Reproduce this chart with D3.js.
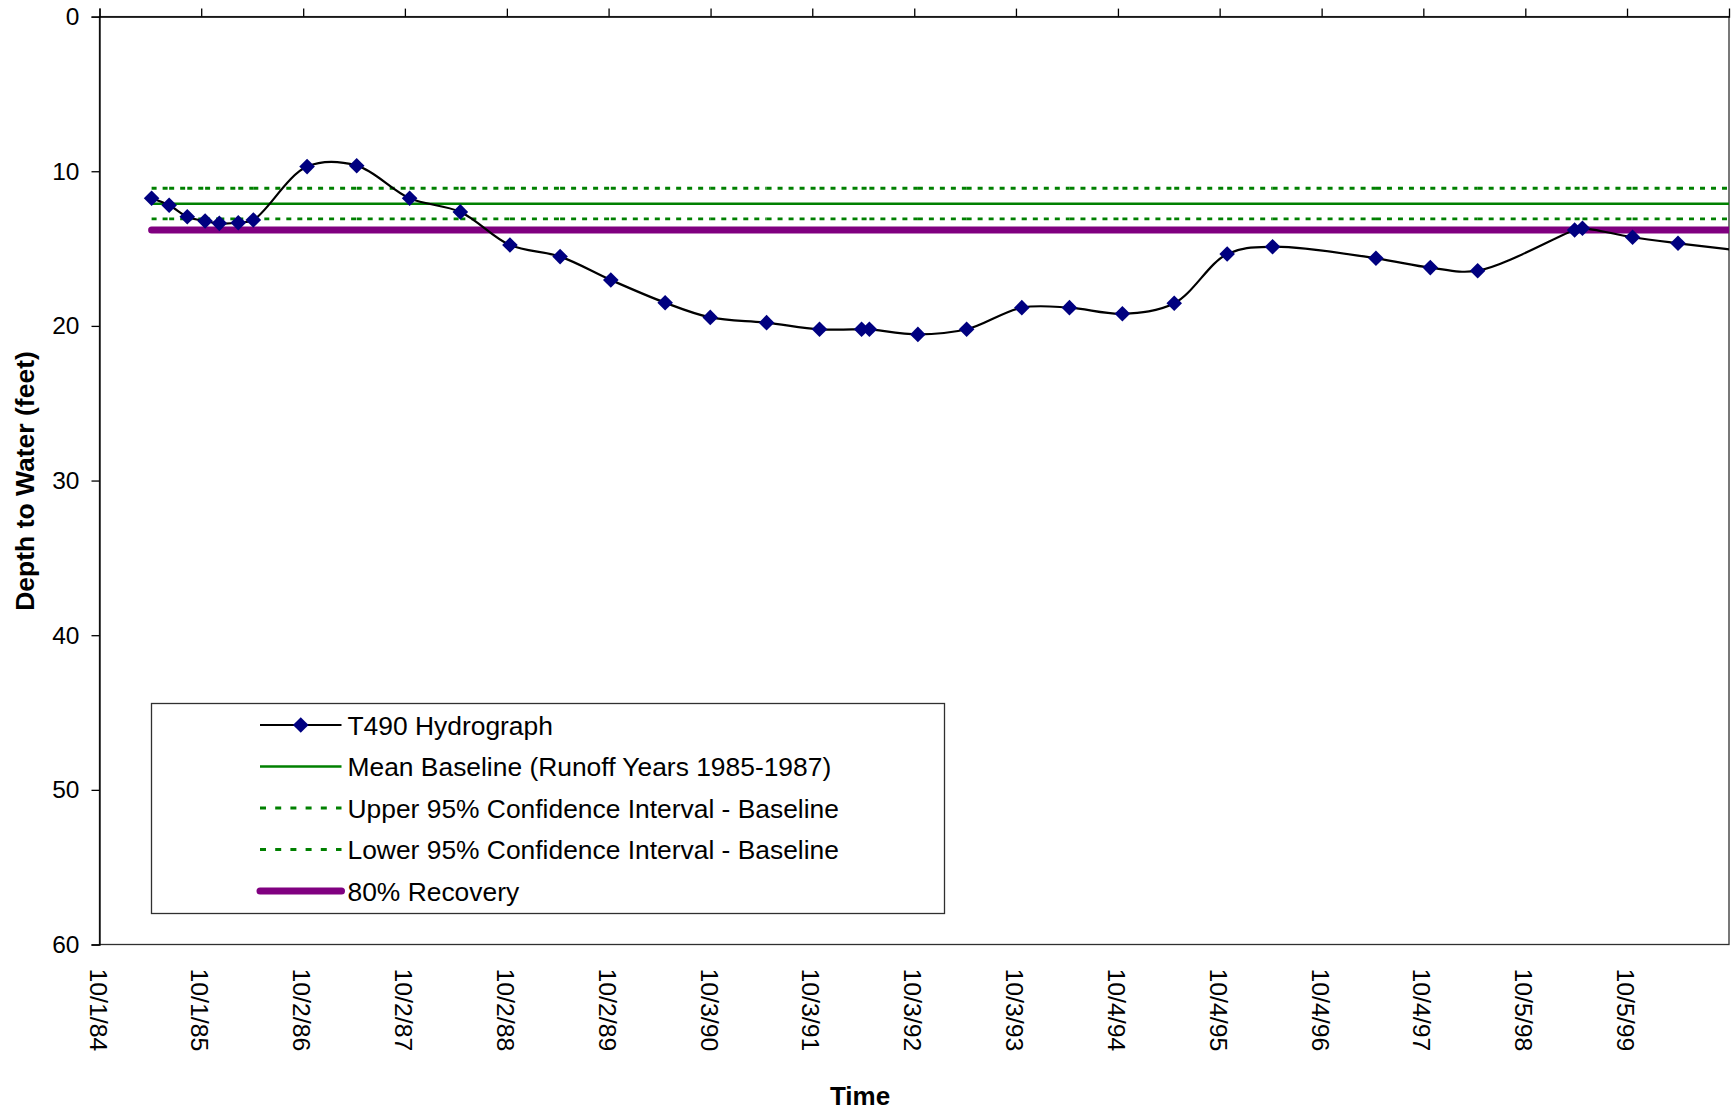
<!DOCTYPE html>
<html>
<head>
<meta charset="utf-8">
<script src="https://cdn.jsdelivr.net/npm/d3@7"></script>
<style>
  html, body { margin: 0; padding: 0; background: #fff; }
  svg { display: block; font-family: "Liberation Sans", Arial, sans-serif; }
</style>
</head>
<body>
<svg id="chart" width="1732" height="1113"></svg>
<script>
// ---------------- DATA ----------------
const sampleDates = [
  "1985-04-06", "1985-06-08", "1985-08-12", "1985-10-15", "1985-12-05",
  "1986-02-11", "1986-04-06", "1986-10-16", "1987-04-12", "1987-10-19",
  "1988-04-18", "1988-10-13", "1989-04-11", "1989-10-10", "1990-04-23",
  "1990-10-02", "1991-04-22", "1991-10-29", "1992-03-28", "1992-04-25",
  "1992-10-16", "1993-04-09", "1993-10-24", "1994-04-13", "1994-10-20",
  "1995-04-24", "1995-10-31", "1996-04-11", "1997-04-17", "1997-10-29",
  "1998-04-17", "1999-03-31", "1999-04-28", "1999-10-25", "2000-04-05",
  "2001-04-15"
];
const depthFeet = [
  11.75, 12.20, 12.94, 13.22, 13.37,
  13.33, 13.15, 9.70, 9.64, 11.75,
  12.63, 14.77, 15.52, 17.03, 18.50,
  19.45, 19.79, 20.22, 20.22, 20.22,
  20.55, 20.22, 18.82, 18.82, 19.21,
  18.54, 15.35, 14.88, 15.63, 16.23,
  16.43, 13.80, 13.69, 14.27, 14.66,
  15.45
];
const seriesNames = [
  "T490 Hydrograph",
  "Mean Baseline (Runoff Years 1985-1987)",
  "Upper 95% Confidence Interval - Baseline",
  "Lower 95% Confidence Interval - Baseline",
  "80% Recovery"
];
// constant baseline levels (feet): mean, upper CI, lower CI, 80% recovery
const baselineLevels = [12.10, 11.10, 13.08, 13.80];
const xTickLabels = [
  "10/1/84", "10/1/85", "10/2/86", "10/2/87", "10/2/88", "10/2/89",
  "10/3/90", "10/3/91", "10/3/92", "10/3/93", "10/4/94", "10/4/95",
  "10/4/96", "10/4/97", "10/5/98", "10/5/99"
];
const xDomainLabels = ["10/1/84", "10/5/00"];
const yTickValues = [0, 10, 20, 30, 40, 50, 60];
const yTitle = "Depth to Water (feet)";
const xTitle = "Time";

// ---------------- LAYOUT ----------------
const plot = { left: 99.5, right: 1729, top: 16.6, bottom: 944.5 };
const svg = d3.select("#chart");

const parseISO = d3.timeParse("%Y-%m-%d");
const parseLabel = d3.timeParse("%m/%d/%y");

const x = d3.scaleTime()
  .domain(xDomainLabels.map(parseLabel))
  .range([plot.left, plot.right]);
const y = d3.scaleLinear()
  .domain([0, 60])
  .range([plot.top, plot.bottom]);

const hydro = sampleDates.map((d, i) => ({ date: parseISO(d), depth: depthFeet[i] }));

svg.append("defs").append("clipPath").attr("id", "plotClip")
  .append("rect")
  .attr("x", plot.left).attr("y", plot.top)
  .attr("width", plot.right - plot.left).attr("height", plot.bottom - plot.top);

// plot area border (bottom & right)
svg.append("rect")
  .attr("x", plot.left).attr("y", plot.top)
  .attr("width", plot.right - plot.left).attr("height", plot.bottom - plot.top)
  .attr("fill", "#fff").attr("stroke", "#303030").attr("stroke-width", 1.3);

// ---------------- AXES ----------------
const yAxis = d3.axisLeft(y).tickValues(yTickValues).tickSize(8).tickPadding(12);
const gy = svg.append("g").attr("transform", `translate(${plot.left},0)`).call(yAxis);
gy.select(".domain").attr("stroke", "#000").attr("stroke-width", 1.3);
gy.selectAll(".tick line").attr("stroke", "#000").attr("stroke-width", 1.3);
gy.selectAll(".tick text").attr("font-size", "24.5px").attr("fill", "#000")
  .attr("font-family", "Liberation Sans, Arial, sans-serif");

const xTickDates = xTickLabels.map(parseLabel);
const xAxisTop = d3.axisTop(x).tickValues(xTickDates).tickSize(8).tickFormat("");
const gxTop = svg.append("g").attr("transform", `translate(0,${plot.top})`).call(xAxisTop);
gxTop.select(".domain").attr("stroke", "#000").attr("stroke-width", 1.3);
gxTop.selectAll(".tick line").attr("stroke", "#000").attr("stroke-width", 1.3);

// x tick labels at bottom, rotated to read downward
const labelY = plot.bottom + 24;
svg.append("g").selectAll("text")
  .data(xTickDates)
  .join("text")
  .attr("transform", (d) => `translate(${x(d)},${labelY}) rotate(90)`)
  .attr("dy", "0.4em")
  .attr("text-anchor", "start")
  .attr("font-size", "24.8px")
  .attr("fill", "#000")
  .text((d, i) => xTickLabels[i]);

// axis titles
svg.append("text")
  .attr("transform", `translate(24,481) rotate(-90)`)
  .attr("text-anchor", "middle")
  .attr("dy", "0.36em")
  .attr("font-size", "26.5px").attr("font-weight", "bold")
  .text(yTitle);
svg.append("text")
  .attr("x", 860).attr("y", 1105)
  .attr("text-anchor", "middle")
  .attr("font-size", "26px").attr("font-weight", "bold")
  .text(xTitle);

// ---------------- SERIES ----------------
const refStyles = [
  { color: "#008000", width: 2.5, dash: null, cap: "butt" },
  { color: "#008000", width: 2.8, dash: "5,6", cap: "butt" },
  { color: "#008000", width: 2.8, dash: "5,6", cap: "butt" },
  { color: "#800080", width: 7, dash: null, cap: "round" }
];

const plotG = svg.append("g").attr("clip-path", "url(#plotClip)");

// reference lines: one segment per sampling interval (as the source draws them)
baselineLevels.forEach((lvl, k) => {
  const st = refStyles[k];
  const g = plotG.append("g");
  if (st.dash) {
    for (let i = 0; i < hydro.length - 1; i++) {
      g.append("line")
        .attr("x1", x(hydro[i].date)).attr("x2", x(hydro[i + 1].date))
        .attr("y1", y(lvl)).attr("y2", y(lvl))
        .attr("stroke", st.color).attr("stroke-width", st.width)
        .attr("stroke-dasharray", st.dash);
    }
  } else {
    g.append("path")
      .datum(hydro)
      .attr("d", d3.line().x((d) => x(d.date)).y(() => y(lvl)))
      .attr("fill", "none")
      .attr("stroke", st.color).attr("stroke-width", st.width)
      .attr("stroke-linecap", st.cap);
  }
});

// hydrograph line (smoothed)
plotG.append("path")
  .datum(hydro)
  .attr("d", d3.line().x((d) => x(d.date)).y((d) => y(d.depth)).curve(d3.curveCatmullRom.alpha(0.5)))
  .attr("fill", "none")
  .attr("stroke", "#000")
  .attr("stroke-width", 2.2);

const diamond = "M0,-7.8L7.8,0L0,7.8L-7.8,0Z";
plotG.append("g").selectAll("path")
  .data(hydro)
  .join("path")
  .attr("transform", (d) => `translate(${x(d.date)},${y(d.depth)})`)
  .attr("d", diamond)
  .attr("fill", "#000080");

// ---------------- LEGEND ----------------
const lg = { x: 151.5, y: 703.5, w: 793, h: 210 };
const legend = svg.append("g");
legend.append("rect")
  .attr("x", lg.x).attr("y", lg.y).attr("width", lg.w).attr("height", lg.h)
  .attr("fill", "#fff").attr("stroke", "#303030").attr("stroke-width", 1.3);

const lx0 = 260, lx1 = 341.5, ltx = 347.5;
seriesNames.forEach((name, i) => {
  const ly = lg.y + 21.5 + i * 41.5;
  if (i === 0) {
    legend.append("line").attr("x1", lx0).attr("x2", lx1).attr("y1", ly).attr("y2", ly)
      .attr("stroke", "#000").attr("stroke-width", 2.2);
    legend.append("path").attr("transform", `translate(${(lx0 + lx1) / 2},${ly})`)
      .attr("d", diamond).attr("fill", "#000080");
  } else {
    const st = refStyles[i - 1];
    legend.append("line").attr("x1", lx0).attr("x2", lx1).attr("y1", ly).attr("y2", ly)
      .attr("stroke", st.color).attr("stroke-width", st.width)
      .attr("stroke-dasharray", st.dash ? "6,9.2" : null)
      .attr("stroke-linecap", st.cap);
  }
  legend.append("text")
    .attr("x", ltx).attr("y", ly).attr("dy", "0.36em")
    .attr("font-size", "26.4px").attr("fill", "#000")
    .text(name);
});
</script>
</body>
</html>
